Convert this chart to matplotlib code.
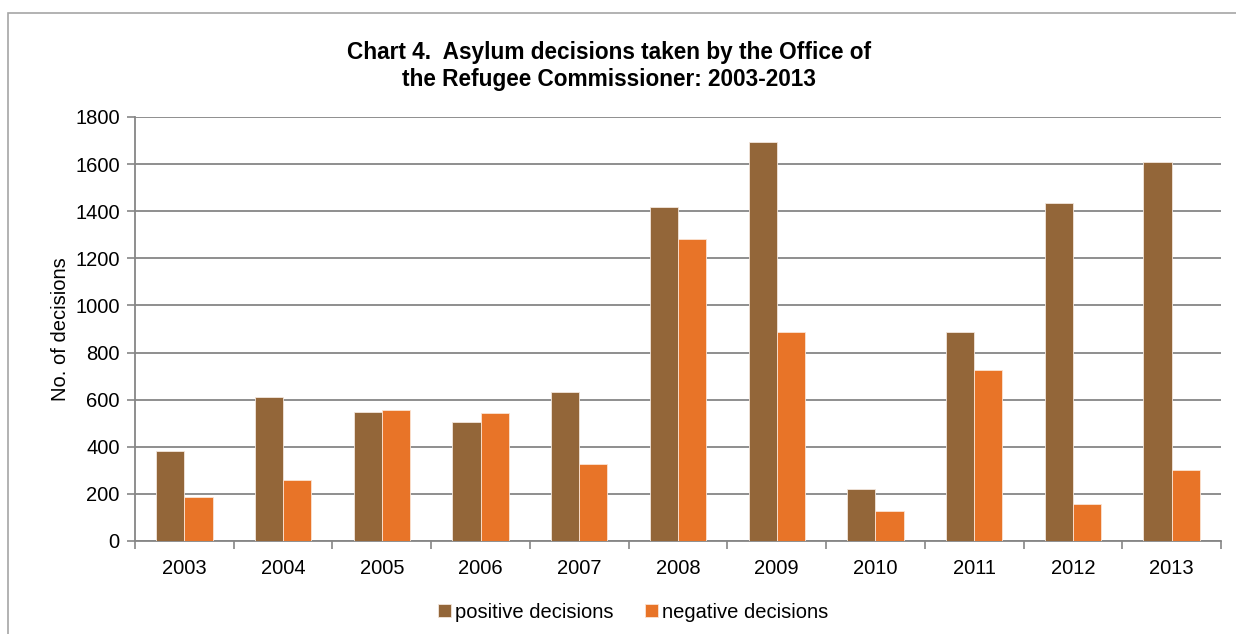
import numpy as np
import matplotlib.pyplot as plt
from matplotlib.patches import Rectangle

plt.rcParams['font.family'] = ['Liberation Sans', 'DejaVu Sans']

# data
years = ['2003', '2004', '2005', '2006', '2007', '2008', '2009', '2010', '2011', '2012', '2013']
positive = [382, 611, 546, 504, 631, 1416, 1694, 222, 886, 1433, 1607]
negative = [187, 261, 556, 543, 329, 1282, 886, 127, 724, 157, 300]
yticks = [0, 200, 400, 600, 800, 1000, 1200, 1400, 1600, 1800]

col_pos = '#936639'
col_neg = '#E87428'
grey = '#868686'

fig = plt.figure(figsize=(12.36, 6.34), dpi=100)
ax = fig.add_axes([135/1236, 1 - 541/634, (1221-135)/1236, (541-117)/634])

# outer frame of the chart area
fig.patches.append(Rectangle((8/1236, -0.1), 1.2, 1 - 13/634 + 0.1, transform=fig.transFigure,
                             fill=False, edgecolor='#a6a6a6', linewidth=1.2))

x = np.arange(len(years))
w = 0.285
ax.bar(x - w/2, positive, w, color=col_pos, edgecolor='#f2e6dc', linewidth=0.6,
       label='positive decisions', zorder=3)
ax.bar(x + w/2, negative, w, color=col_neg, edgecolor='#fbe3d3', linewidth=0.6,
       label='negative decisions', zorder=3)

ax.set_xlim(-0.5, len(years) - 0.5)
ax.set_ylim(0, 1800)
ax.set_yticks(yticks)
ax.set_xticks(x)
ax.set_xticklabels(years)
ax.set_xticks(np.arange(-0.5, len(years)), minor=True)
ax.tick_params(axis='x', which='major', length=0, pad=13, labelsize=14.5, colors='#000000')
ax.tick_params(axis='x', which='minor', length=6, width=1.2, color=grey, direction='out')
ax.tick_params(axis='y', length=6, width=1.2, color=grey, labelsize=14.5, pad=5)
ax.yaxis.grid(True, color=grey, linewidth=1.3, zorder=0)
ax.set_axisbelow(True)
for s in ['top', 'right']:
    ax.spines[s].set_visible(False)
for s in ['left', 'bottom']:
    ax.spines[s].set_color(grey)
    ax.spines[s].set_linewidth(1.3)

ax.set_ylabel('No. of decisions', fontsize=14.5, labelpad=4)

fig.text(609/1236, 1 - 66/634, 'Chart 4.  Asylum decisions taken by the Office of\nthe Refugee Commissioner: 2003-2013',
         ha='center', va='center', fontsize=16.3, fontweight='bold', linespacing=1.25)

leg = fig.legend(loc='center', bbox_to_anchor=(633/1236, 1 - 612/634), ncol=2, frameon=False,
                 fontsize=14.5, handlelength=0.65, handleheight=0.65, handletextpad=0.2,
                 columnspacing=1.55)

fig.savefig('out.png', dpi=100)
